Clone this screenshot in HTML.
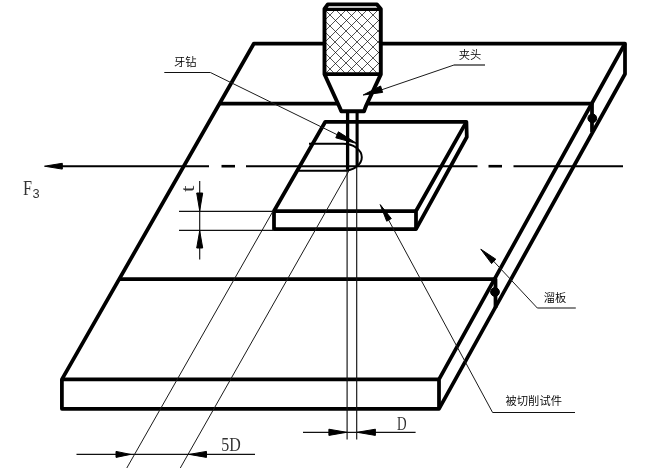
<!DOCTYPE html>
<html lang="zh">
<head>
<meta charset="utf-8">
<title>牙钻切削试验示意图</title>
<style>
html,body{margin:0;padding:0;background:#fff;}
body{width:658px;height:472px;overflow:hidden;}
svg{display:block;will-change:transform;}
.k{stroke:#000;stroke-width:3.75;fill:none;stroke-linejoin:round;stroke-linecap:butt;}
.m{stroke:#000;stroke-width:2;fill:none;}
.t{stroke:#111;stroke-width:1.15;fill:none;}
.d{stroke:#1a1a1a;stroke-width:1;fill:none;}
.h{stroke:#000;stroke-width:0.8;fill:none;stroke-opacity:0.85;}
.a{fill:#000;stroke:#000;stroke-width:1;stroke-linejoin:round;}
.cn{font-family:"Liberation Sans","Noto Sans CJK SC",sans-serif;font-weight:350;font-size:11.3px;fill:#000;}
.en{font-family:"Liberation Serif","Noto Serif CJK SC",serif;fill:#333;}
</style>
</head>
<body>
<svg width="658" height="472" viewBox="0 0 658 472">
<defs>
<clipPath id="hc"><rect x="326" y="10.5" width="53" height="62.2"/></clipPath>
</defs>
<rect width="658" height="472" fill="#fff"/>

<!-- base plate (溜板) -->
<g class="k">
<path d="M253.9 43.5 L625 43.5 L625 74 L439 408.8 L61.9 408.8 L61.9 379.4 Z"/>
<path d="M625 43.5 L439 379.4 L439 408.8"/>
<path d="M61.9 379.4 L439 379.4"/>
<path d="M220 103.5 L592 103.5 L592 132"/>
<path d="M119 279 L495.5 279 L495.5 308"/>
</g>
<circle cx="592.3" cy="118.3" r="4.4" class="a"/>
<circle cx="495" cy="292" r="4.4" class="a"/>

<!-- workpiece -->
<g class="k">
<path d="M325.3 121.8 L466.4 121.8 L466.8 137 L416 229.2 L274 229.2 L274 211 Z" fill="#fff"/>
<path d="M466.4 121.8 L416 211 L416 229.2"/>
<path d="M274 211 L416 211"/>
</g>

<!-- slot -->
<path class="m" d="M309 143.8 L343 143.8 A18.8 13.5 0 0 1 343 170.8 L298.5 170.8" stroke-width="2.4"/>

<!-- thin construction lines -->
<g class="t">
<path class="d" d="M272.5 212 L126.8 468"/>
<path class="d" d="M348.8 171 L180.3 468"/>
<path d="M347.1 168 L347.1 439.6"/>
<path d="M356.7 166 L356.7 439.6"/>
<path d="M179 211.3 L274 211.3"/>
<path d="M179 230.3 L274 230.3"/>
<path d="M199.7 181 L199.7 259.5"/>
<path d="M76.5 454.4 L255 454.4"/>
<path d="M303 432.3 L415.6 432.3"/>
<path d="M164.3 72.5 L210.4 72.5"/><path class="d" d="M210.4 72.5 L339 135.6"/>
<path d="M485 65 L454 65"/><path class="d" d="M454 65 L381 90"/>
<path d="M575.8 308 L537.3 308"/><path class="d" d="M537.3 308 L493 260.6"/>
<path d="M575 412.5 L492.6 412.5"/><path class="d" d="M492.6 412.5 L384 211.5"/>
</g>

<!-- axis line -->
<g class="m">
<path d="M60 166.2 L209 166.2"/>
<path d="M221.5 166.2 L235 166.2" stroke-width="2.6"/>
<path d="M246 166.2 L477.5 166.2"/>
<path d="M488.5 166.2 L502 166.2" stroke-width="2.6"/>
<path d="M513.5 166.2 L623 166.2"/>
</g>
<path class="a" d="M44.5 166.2 L62.3 163.3 L62.3 169.1 Z"/>

<!-- chuck -->
<path d="M327.8 4.3 L377 4.3 L381 9 L381 74.3 L366.2 105.5 L364 111.3 L341.3 111.3 L339.6 107.3 L324.4 74.3 L324.4 9 Z" fill="#fff" stroke="none"/>
<g clip-path="url(#hc)" class="h">
<g id="hl">
<path d="M326 -42.0 L379 11.0"/>
<path d="M326 -32.0 L379 21.0"/>
<path d="M326 -21.0 L379 32.0"/>
<path d="M326 -10.0 L379 43.0"/>
<path d="M326 0.0 L379 53.0"/>
<path d="M326 11.0 L379 64.0"/>
<path d="M326 22.0 L379 75.0"/>
<path d="M326 33.0 L379 86.0"/>
<path d="M326 43.0 L379 96.0"/>
<path d="M326 54.0 L379 107.0"/>
<path d="M326 65.0 L379 118.0"/>
<path d="M326 19.0 L379 -34.0"/>
<path d="M326 30.0 L379 -23.0"/>
<path d="M326 41.0 L379 -12.0"/>
<path d="M326 51.0 L379 -2.0"/>
<path d="M326 62.0 L379 9.0"/>
<path d="M326 73.0 L379 20.0"/>
<path d="M326 83.0 L379 30.0"/>
<path d="M326 94.0 L379 41.0"/>
<path d="M326 105.0 L379 52.0"/>
<path d="M326 116.0 L379 63.0"/>
<path d="M326 126.0 L379 73.0"/>
</g>
</g>
<g class="k">
<path d="M327.8 4.4 L377 4.4 L380.8 9 L380.8 74.3 L366.2 105.5 L364 111.3 L341.3 111.3 L339.6 107.3 L324.5 74.3 L324.5 9 Z" stroke-width="3.9"/>
<path d="M324.4 9.4 L381 9.4" stroke-width="3.2"/>
<path d="M324.4 74.2 L381 74.2" stroke-width="3.7"/>
</g>
<!-- drill -->
<g class="k">
<path d="M347.6 111 L347.6 169.5" stroke-width="3.3"/>
<path d="M357.1 111 L357.1 167" stroke-width="3.1"/>
</g>

<!-- arrowheads -->
<g class="a">
<path d="M363.2 95 L380.6 86 L382.6 92.4 Z"/>
<path d="M357 143.6 L338.4 131.8 L335.8 137.8 Z"/>
<path d="M380.2 204.6 L391.3 218.6 L386.7 221.2 Z"/>
<path d="M480.8 249.2 L495.8 259.2 L491.6 263.6 Z"/>
<path d="M199.7 210.8 L196.7 193 L202.7 193 Z"/>
<path d="M199.7 230.8 L196.7 248 L202.7 248 Z"/>
<path d="M130.5 454.4 L116 451.4 L116 457.4 Z"/>
<path d="M189.3 454.4 L206.5 451.4 L206.5 457.4 Z"/>
<path d="M346.7 432.3 L328.9 429.2 L328.9 435.4 Z"/>
<path d="M357.2 432.3 L375.4 429.2 L375.4 435.4 Z"/>
</g>

<!-- labels -->
<text class="cn" x="174" y="66">牙钻</text>
<text class="cn" x="458.8" y="59">夹头</text>
<text class="cn" x="543.8" y="302">溜板</text>
<text class="cn" x="505.5" y="405.4">被切削试件</text>
<text class="en" x="23" y="195" font-size="22" textLength="9" lengthAdjust="spacingAndGlyphs">F</text>
<text x="32.6" y="198.2" font-size="12.8" style="font-family:'Liberation Sans',sans-serif" fill="#333">3</text>
<text class="en" x="221.3" y="450.6" font-size="19" textLength="19.5" lengthAdjust="spacingAndGlyphs">5D</text>
<text class="en" x="397" y="429.8" font-size="19" textLength="9.6" lengthAdjust="spacingAndGlyphs">D</text>
<text class="en" font-size="18" transform="translate(194 192) rotate(-90)" textLength="6.5" lengthAdjust="spacingAndGlyphs">t</text>
</svg>
</body>
</html>
